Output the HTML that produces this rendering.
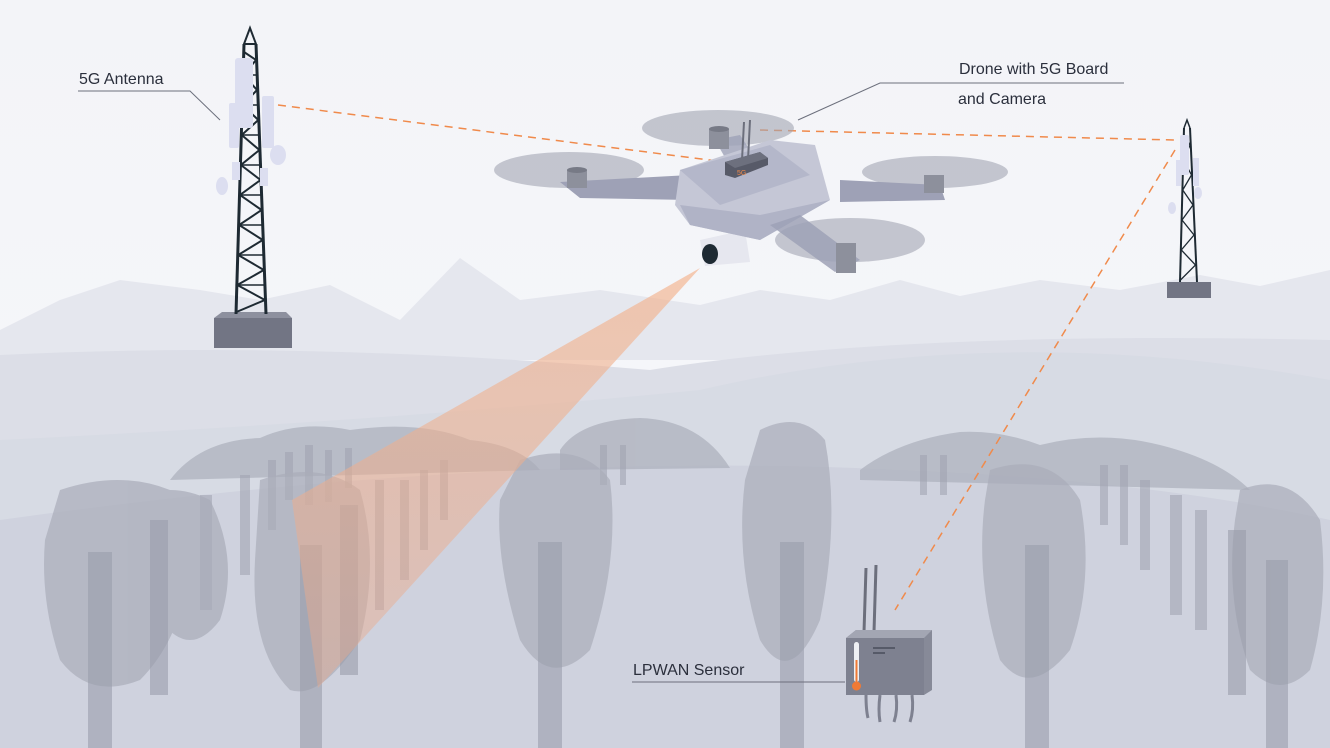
<!DOCTYPE html>
<html><head><meta charset="utf-8"><style>
html,body{margin:0;padding:0;width:1330px;height:748px;overflow:hidden;background:#f5f6f9}
svg{display:block}
text{font-family:"Liberation Sans",sans-serif;fill:#2b2f3c}
</style></head><body>
<svg width="1330" height="748" viewBox="0 0 1330 748" xmlns="http://www.w3.org/2000/svg">
<defs>
<linearGradient id="sky" x1="0" y1="0" x2="0" y2="1"><stop offset="0" stop-color="#f3f4f8"/><stop offset="1" stop-color="#f7f8fb"/></linearGradient>
<linearGradient id="beam" x1="0" y1="0" x2="0" y2="1"><stop offset="0" stop-color="#f3b48f" stop-opacity="0.9"/><stop offset="1" stop-color="#e9a88a" stop-opacity="0.55"/></linearGradient>
</defs>
<rect width="1330" height="748" fill="url(#sky)"/>
<path d="M0 330 L60 300 L120 280 L200 290 L260 300 L330 285 L400 320 L460 258 L520 300 L600 290 L700 305 L760 290 L830 300 L900 280 L960 296 L1040 280 L1120 290 L1200 275 L1260 286 L1330 270 L1330 360 L0 360Z" fill="#e5e7ee"/>
<path d="M0 355 Q300 340 650 370 Q900 330 1330 340 L1330 748 L0 748Z" fill="#dcdee7"/>
<path d="M0 440 Q400 420 700 390 Q1000 320 1330 380 L1330 748 L0 748Z" fill="#d6d9e3" opacity="0.8"/>
<path d="M0 520 Q500 450 900 470 Q1150 480 1330 520 L1330 748 L0 748Z" fill="#cfd2de"/>
<g fill="#aeb1bd" opacity="0.75">
<path d="M170 480 Q200 440 260 438 Q300 420 350 430 Q420 420 470 440 Q520 445 540 470 L170 480Z"/>
<path d="M860 470 Q900 440 960 432 Q1000 430 1040 445 Q1100 430 1160 445 Q1220 460 1250 490 L860 480Z"/>
<path d="M560 450 Q580 420 640 418 Q700 420 730 468 L560 470Z"/>
</g>
<g fill="#9fa2b0" opacity="0.55">
<rect x="285" y="452" width="8" height="48"/><rect x="305" y="445" width="8" height="60"/><rect x="325" y="450" width="7" height="52"/><rect x="345" y="448" width="7" height="40"/><rect x="268" y="460" width="8" height="70"/>
<rect x="240" y="475" width="10" height="100"/><rect x="200" y="495" width="12" height="115"/><rect x="600" y="445" width="7" height="40"/><rect x="620" y="445" width="6" height="40"/>
<rect x="920" y="455" width="7" height="40"/><rect x="940" y="455" width="7" height="40"/><rect x="1100" y="465" width="8" height="60"/><rect x="1120" y="465" width="8" height="80"/><rect x="1140" y="480" width="10" height="90"/><rect x="1170" y="495" width="12" height="120"/><rect x="1195" y="510" width="12" height="120"/>
<rect x="375" y="480" width="9" height="130"/><rect x="400" y="480" width="9" height="100"/><rect x="420" y="470" width="8" height="80"/><rect x="440" y="460" width="8" height="60"/>
</g>
<g fill="#a9acb9" opacity="0.7">
<path d="M60 490 Q120 470 170 490 Q200 510 190 570 Q180 640 140 680 Q90 700 60 660 Q40 600 45 540Z"/>
<path d="M260 480 Q320 460 360 490 Q380 560 360 640 Q320 700 290 690 Q250 650 255 560Z"/>
<path d="M520 460 Q580 440 610 480 Q620 560 590 650 Q550 690 520 640 Q495 560 500 500Z"/>
<path d="M760 430 Q800 410 825 440 Q840 520 820 620 Q790 690 760 640 Q735 560 745 480Z"/>
<path d="M990 470 Q1050 450 1080 500 Q1095 580 1070 650 Q1030 700 1000 660 Q975 580 985 500Z"/>
<path d="M1240 490 Q1290 470 1320 520 Q1330 600 1310 670 Q1280 700 1250 670 Q1225 600 1235 520Z"/>
<path d="M130 500 Q170 480 210 500 Q240 560 220 620 Q190 660 160 620 Q130 570 130 500Z"/>
</g>
<g fill="#9a9dab" opacity="0.6">
<rect x="88" y="552" width="24" height="196"/><rect x="150" y="520" width="18" height="175"/><rect x="300" y="545" width="22" height="203"/><rect x="340" y="505" width="18" height="170"/>
<rect x="538" y="542" width="24" height="206"/><rect x="780" y="542" width="24" height="206"/><rect x="1025" y="545" width="24" height="203"/><rect x="1228" y="530" width="18" height="165"/><rect x="1266" y="560" width="22" height="188"/>
</g>
<path d="M700 268 L292 500 L318 688 Z" fill="url(#beam)" opacity="0.75"/>
<g stroke="#f08a4b" stroke-width="1.5" stroke-dasharray="8 6" fill="none">
<line x1="278" y1="105" x2="725" y2="162"/>
<line x1="760" y1="130" x2="1175" y2="140"/>
<line x1="1175" y1="150" x2="895" y2="610"/>
</g>
<!-- left tower -->
<g>
<rect x="214" y="318" width="78" height="30" fill="#727584"/>
<path d="M214 318 L222 312 L286 312 L292 318Z" fill="#8d909e"/>
<g stroke="#1e2a33" fill="none">
<line x1="244" y1="44" x2="236" y2="314" stroke-width="3"/><line x1="256" y1="44" x2="266" y2="314" stroke-width="3"/>
<polyline stroke-width="2" points="244,52 256,60 243.5,75 257,90 242.6,105 258.3,120 241.7,135 259.4,150 240.9,165 260.5,180 240,195 261.6,210 239.1,225 262.7,240 238.2,255 263.8,270 237.3,285 264.9,300 236.4,312"/>
<g stroke-width="1.5">
<line x1="243.5" y1="75" x2="257" y2="75"/><line x1="242.6" y1="105" x2="258.3" y2="105"/><line x1="241.7" y1="135" x2="259.4" y2="135"/><line x1="240.9" y1="165" x2="260.5" y2="165"/><line x1="240" y1="195" x2="261.6" y2="195"/><line x1="239.1" y1="225" x2="262.7" y2="225"/><line x1="238.2" y1="255" x2="263.8" y2="255"/><line x1="237.3" y1="285" x2="264.9" y2="285"/>
</g>
</g>
<path d="M244 44 L250 28 L256 44Z" fill="none" stroke="#1e2a33" stroke-width="2"/>
<rect x="235" y="58" width="18" height="70" rx="3" fill="#dcdef0"/>
<rect x="229" y="103" width="10" height="45" rx="2" fill="#dcdef0"/>
<rect x="262" y="96" width="12" height="52" rx="2" fill="#dcdef0"/>
<ellipse cx="278" cy="155" rx="8" ry="10" fill="#dcdef0"/>
<ellipse cx="222" cy="186" rx="6" ry="9" fill="#dcdef0"/>
<rect x="232" y="162" width="8" height="18" fill="#dcdef0"/><rect x="260" y="168" width="8" height="18" fill="#dcdef0"/>
</g>
<!-- right tower -->
<g>
<rect x="1167" y="282" width="44" height="16" fill="#727584"/>
<g stroke="#1e2a33" fill="none">
<line x1="1184" y1="128" x2="1180" y2="282" stroke-width="2"/><line x1="1190" y1="128" x2="1197" y2="282" stroke-width="2"/>
<polyline stroke-width="1.3" points="1184,135 1190,145 1183.5,160 1191.5,175 1182.7,190 1193,205 1182,220 1194,235 1181.3,250 1195.5,265 1180.5,280"/>
</g>
<path d="M1184 128 L1187 120 L1190 128" fill="none" stroke="#1e2a33" stroke-width="1.5"/>
<rect x="1180" y="135" width="9" height="40" rx="2" fill="#dcdef0"/>
<rect x="1176" y="160" width="5" height="26" fill="#dcdef0"/><rect x="1193" y="158" width="6" height="28" fill="#dcdef0"/>
<ellipse cx="1172" cy="208" rx="4" ry="6" fill="#dcdef0"/><ellipse cx="1198" cy="193" rx="4" ry="6" fill="#dcdef0"/>
</g>
<!-- drone -->
<g>
<ellipse cx="718" cy="128" rx="76" ry="18" fill="#a2a5b2" opacity="0.6"/>
<ellipse cx="569" cy="170" rx="75" ry="18" fill="#a2a5b2" opacity="0.6"/>
<ellipse cx="935" cy="172" rx="73" ry="16" fill="#a2a5b2" opacity="0.6"/>
<path d="M560 182 L690 175 L690 200 L580 198Z" fill="#9ea1b6"/>
<path d="M840 180 L940 185 L945 200 L840 202Z" fill="#9ea1b6"/>
<path d="M715 140 L740 135 L760 165 L735 175Z" fill="#9ea1b6" opacity="0.8"/>
<rect x="567" y="170" width="20" height="18" fill="#8d909c"/><ellipse cx="577" cy="170" rx="10" ry="3" fill="#777a86"/>
<rect x="709" y="129" width="20" height="20" fill="#8d909c"/><ellipse cx="719" cy="129" rx="10" ry="3" fill="#777a86"/>
<rect x="924" y="175" width="20" height="18" fill="#8d909c"/>
<path d="M700 240 L745 230 L750 262 L705 266Z" fill="#e6e7ef"/>
<path d="M680 170 L770 140 L815 145 L830 200 L760 240 L690 225 L675 205Z" fill="#c5c7d6"/>
<path d="M680 205 L760 215 L830 200 L760 240 L690 225Z" fill="#b0b3c6"/>
<path d="M680 170 L770 145 L810 175 L720 205Z" fill="#b4b7ca"/>
<ellipse cx="850" cy="240" rx="75" ry="22" fill="#a2a5b2" opacity="0.6"/>
<path d="M770 225 L800 215 L860 260 L835 272Z" fill="#9ea1b6" opacity="0.85"/>
<rect x="836" y="243" width="20" height="30" fill="#8d909c"/>
<ellipse cx="710" cy="254" rx="8" ry="10" fill="#1e2a33"/>
<line x1="742" y1="160" x2="744" y2="122" stroke="#6c6f7c" stroke-width="2"/><line x1="748" y1="160" x2="750" y2="120" stroke="#6c6f7c" stroke-width="2"/>
<path d="M725 162 L760 152 L768 158 L768 165 L735 178 L725 175Z" fill="#575a68"/>
<path d="M725 162 L760 152 L768 158 L735 168Z" fill="#6d707e"/>
<text x="737" y="175" font-size="7" style="fill:#f08a4b">5G</text>
</g>
<!-- sensor -->
<g>
<line x1="864" y1="632" x2="866" y2="568" stroke="#6c6f7c" stroke-width="3"/>
<line x1="874" y1="632" x2="876" y2="565" stroke="#6c6f7c" stroke-width="3"/>
<path d="M846 638 L856 630 L932 630 L932 690 L924 695 L846 695Z" fill="#878a98"/>
<path d="M846 638 L856 630 L932 630 L924 638Z" fill="#a3a6b3"/>
<rect x="846" y="638" width="78" height="57" fill="#7e8190"/>
<line x1="873" y1="648" x2="895" y2="648" stroke="#2f3340" stroke-width="1"/><line x1="873" y1="653" x2="885" y2="653" stroke="#2f3340" stroke-width="1"/>
<rect x="854" y="642" width="5" height="40" rx="2.5" fill="#eef0f4"/><circle cx="856.5" cy="686" r="4.5" fill="#f07a35"/><rect x="855.5" y="660" width="2" height="24" fill="#f07a35"/>
<g stroke="#7e8190" stroke-width="3" fill="none"><path d="M880 695 Q878 710 880 722"/><path d="M896 695 Q898 710 894 722"/><path d="M912 695 Q914 710 910 722"/><path d="M866 695 Q866 710 868 718"/></g>
</g>
<g stroke="#6c6f7c" stroke-width="1" fill="none">
<polyline points="78,91 190,91 220,120"/>
<polyline points="1124,83 880,83 798,120"/>
<line x1="632" y1="682" x2="845" y2="682"/>
</g>
<text x="79" y="84" font-size="16">5G Antenna</text>
<text x="959" y="74" font-size="16">Drone with 5G Board</text>
<text x="958" y="104" font-size="16">and Camera</text>
<text x="633" y="675" font-size="16">LPWAN Sensor</text>
</svg>
</body></html>
